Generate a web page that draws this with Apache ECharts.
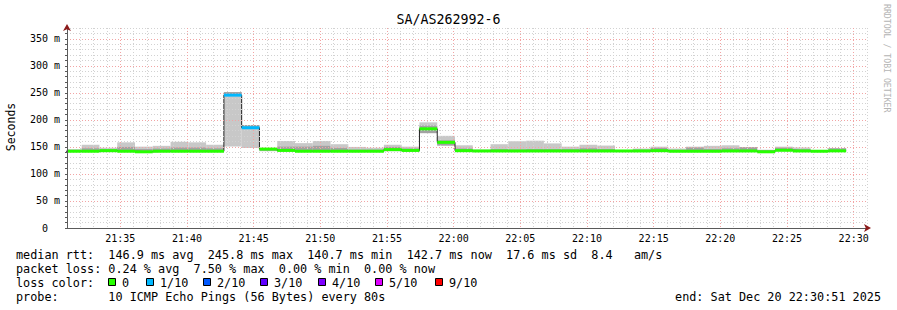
<!DOCTYPE html>
<html><head><meta charset="utf-8">
<script src="https://cdn.jsdelivr.net/npm/echarts@6/dist/echarts.min.js"></script>
<style>html,body{margin:0;padding:0;background:#fff}#c{width:897px;height:310px}</style>
</head><body><div id="c"></div>
<script>
// ---- data ----
const chartTitle = 'SA/AS262992-6';
const startTimes = ['21:30:46','21:32:06','21:33:26','21:34:46','21:36:06','21:37:26','21:38:46','21:40:06','21:41:26','21:42:46',
  '21:44:06','21:45:26','21:46:46','21:48:06','21:49:26','21:50:46','21:52:06','21:53:26','21:54:46','21:56:06',
  '21:57:26','21:58:46','22:00:06','22:01:26','22:02:46','22:04:06','22:05:26','22:06:46','22:08:06','22:09:26',
  '22:10:46','22:12:06','22:13:26','22:14:46','22:16:06','22:17:26','22:18:46','22:20:06','22:21:26','22:22:46',
  '22:24:06','22:25:26','22:26:46','22:28:06'];
const lastEndTime = '22:29:26';
const medianMs = [142.0,142.0,143.0,142.0,141.0,142.0,142.0,142.0,142.0,245.8,
  185.5,146.0,143.5,142.0,142.0,142.0,142.0,142.0,145.0,143.5,
  183.5,158.5,143.0,142.5,142.5,142.5,142.5,142.5,142.5,142.5,
  142.5,142.5,142.5,143.0,142.0,142.0,142.0,142.5,142.5,141.0,
  143.8,142.5,142.0,142.7];
const lossPct = [0,0,0,0,0,0,0,0,0,7.5,
  3.1,0,0,0,0,0,0,0,0,0,
  0,0,0,0,0,0,0,0,0,0,
  0,0,0,0,0,0,0,0,0,0,
  0,0,0,0];
const smokeLo = [141,141,140.5,141,140,141,141,141,141,151,
  148,142,142,141,141,141,141,141,142,141.5,
  175.5,152.5,141,141,141,141,141,141,141,141,
  141,141,141,141,140.7,141,141,141,141,140.5,
  142,141,140.7,141.5];
const smokeHi = [146,154,148.5,158.5,150.5,152,159.5,158.5,154,251.5,
  190.5,147.5,161,157,161,155,150,148.5,154,150.5,
  195.5,170.5,153,145,155,160.5,161.5,156.5,150.5,154,
  152.5,144,147,150.5,147,150.5,152,153,149.5,144.5,
  150.5,149,143.5,147.5];
const denseLo = [142,142,141,142,141,142,142,142,142,246,
  185,143,143,142,142,142,142,142,143,142,
  175.5,152.5,142,141.5,142,142,142,142,142,142,
  142,141.5,142,142,141,142,142,142,142,141,
  143,142,141,142];
const denseHi = [144,147.5,146,150,146,147,149,149,147.5,251.5,
  190.5,146.5,150.5,150.5,152,148,145,145,150,147,
  189.5,162,147,144,146,145,146,146,146,147.5,
  146,143.5,145,148,144.5,149,146,147.5,149.5,144.5,
  148.5,146,143,147.5];
const yTickValues = [0,50,100,150,200,250,300,350];
const xTickLabels = ['21:35','21:40','21:45','21:50','21:55','22:00','22:05','22:10','22:15','22:20','22:25','22:30'];
const lossLegendLabels = ['0','1/10','2/10','3/10','4/10','5/10','9/10'];
const lossLegendColors = ['#26ff00','#00b8ff','#0059ff','#5e00ff','#7e00ff','#dd00ff','#ff0000'];
const lossLegendLimits = [0,1,2,3,4,5,10]; // lost pings out of 10
const statLine1 = 'median rtt:  146.9 ms avg  245.8 ms max  140.7 ms min  142.7 ms now  17.6 ms sd  8.4   am/s';
const statLine2 = 'packet loss: 0.24 % avg  7.50 % max  0.00 % min  0.00 % now';
const lossLine  = 'loss color:';
const probeLine = 'probe:       10 ICMP Echo Pings (56 Bytes) every 80s';
const endLine   = 'end: Sat Dec 20 22:30:51 2025';
const sideText  = 'RRDTOOL / TOBI OETIKER';

// ---- helpers ----
const MONO = 'DejaVu Sans Mono';
const nb = s => s.replace(/ /g, '\u00A0');
const toMin = s => { const p = s.split(':').map(Number); return p[0]*60 + p[1] + p[2]/60; };
const starts = startTimes.map(toMin);
const ends = starts.slice(1).concat([toMin(lastEndTime)]);
const lossColor = pct => {
  const lost = pct / 10;
  for (let k = 0; k < lossLegendLimits.length; k++) if (lost <= lossLegendLimits[k]) return lossLegendColors[k];
  return lossLegendColors[lossLegendColors.length - 1];
};
const smokeData = starts.map((s, i) => [s, ends[i], smokeLo[i], smokeHi[i], denseLo[i], denseHi[i]]);
const bandData = starts.map((s, i) => ({ value: [s, ends[i], medianMs[i]], itemStyle: { color: lossColor(lossPct[i]) } }));
const medLine = starts.map((s, i) => [s, medianMs[i]]).concat([[ends[ends.length-1], medianMs[medianMs.length-1]]]);

const GMINOR = '#d2d2d2', GMAJOR = '#f2a4a4';
const AXIS_C = '#5a5a5a', ARROW_C = '#8b1a1a';

function clipR(r, cs) {
  return echarts.graphic.clipRectByRect(r, { x: cs.x, y: cs.y, width: cs.width, height: cs.height });
}

const chart = echarts.init(document.getElementById('c'), null, { renderer: 'svg', width: 897, height: 310 });

const fmtX = v => {
  const m = Math.round(v);
  if (m % 5 !== 0) return '';
  const lab = Math.floor(m / 60) + ':' + String(m % 60).padStart(2, '0');
  return xTickLabels.indexOf(lab) >= 0 ? lab : '';
};
const fmtY = v => {
  const r = Math.round(v);
  if (yTickValues.indexOf(r) < 0) return '';
  return r === 0 ? '0\u00A0\u00A0' : r + '\u00A0m';
};

const legendGraphics = [];
const boxX = [108, 146, 203, 260, 318, 375, 435];
lossLegendLabels.forEach((lab, k) => {
  legendGraphics.push({ type: 'rect', shape: { x: boxX[k] + 0.5, y: 278.5, width: 7, height: 7 },
    style: { fill: lossLegendColors[k], stroke: '#000', lineWidth: 1 } });
  legendGraphics.push({ type: 'text', x: boxX[k] + 14, y: 282.5,
    style: { text: lab, fill: '#000', fontFamily: MONO, fontSize: 11.8, verticalAlign: 'middle', align: 'left' } });
});

const option = {
  animation: false,
  backgroundColor: '#fff',
  grid: { left: 67, right: 30, top: 28, bottom: 82, containLabel: false },
  xAxis: [{
    type: 'value', min: 1291, max: 1351, interval: 1, position: 'bottom', z: 3,
    axisLine: { show: true, onZero: false, lineStyle: { color: AXIS_C, width: 1 } },
    axisTick: { show: false },
    axisLabel: { formatter: fmtX, fontFamily: MONO, fontSize: 10, color: '#000', margin: 5 },
    splitLine: { show: true, lineStyle: { color: [GMINOR, GMINOR, GMINOR, GMINOR, GMAJOR], type: [1, 2], width: 1 } }
  }, {
    type: 'value', min: 1291, max: 1351, interval: 1, position: 'bottom', z: 4, show: true,
    axisLine: { show: true, onZero: false, symbol: ['none', 'arrow'], symbolSize: [6, 7], symbolOffset: [0, 4],
      lineStyle: { color: ARROW_C, width: 0.01 } },
    axisTick: { show: false }, axisLabel: { show: false }, splitLine: { show: false }
  }],
  yAxis: [{
    type: 'value', min: 0, max: 370, interval: 10, position: 'left', z: 3,
    axisLine: { show: true, onZero: false, lineStyle: { color: AXIS_C, width: 1 } },
    axisTick: { show: true, length: 2, lineStyle: { color: AXIS_C } },
    axisLabel: { formatter: fmtY, fontFamily: MONO, fontSize: 10, color: '#000', margin: 7 },
    splitLine: { show: true, lineStyle: { color: [GMAJOR, GMINOR, GMINOR, GMINOR, GMINOR], type: [1, 2], width: 1 } }
  }, {
    type: 'value', min: 0, max: 370, interval: 10, position: 'left', z: 4, show: true,
    axisLine: { show: true, onZero: false, symbol: ['none', 'arrow'], symbolSize: [6, 7], symbolOffset: [0, 4],
      lineStyle: { color: ARROW_C, width: 0.01 } },
    axisTick: { show: false }, axisLabel: { show: false }, splitLine: { show: false }
  }],
  series: [{
    type: 'custom', name: 'smoke', xAxisIndex: 0, yAxisIndex: 0, z: 1, clip: true,
    encode: { x: [0, 1], y: [2, 3, 4, 5] },
    data: smokeData,
    renderItem: (params, api) => {
      const cs = params.coordSys;
      const x0 = api.value(0), x1 = api.value(1);
      const a = api.coord([x0, api.value(3)]), b = api.coord([x1, api.value(2)]);
      const c = api.coord([x0, api.value(5)]), d = api.coord([x1, api.value(4)]);
      const ch = [];
      const r1 = clipR({ x: a[0], y: a[1], width: b[0] - a[0], height: b[1] - a[1] }, cs);
      if (r1) ch.push({ type: 'rect', shape: r1, style: { fill: '#c8c8c8' } });
      const r2 = clipR({ x: c[0], y: c[1], width: d[0] - c[0], height: d[1] - c[1] }, cs);
      if (r2) ch.push({ type: 'rect', shape: r2, style: { fill: '#a2a2a2' } });
      return { type: 'group', children: ch };
    }
  }, {
    type: 'line', name: 'median', xAxisIndex: 0, yAxisIndex: 0, z: 2,
    step: 'end', symbol: 'none', data: medLine,
    lineStyle: { color: '#202020', width: 1 }
  }, {
    type: 'custom', name: 'loss', xAxisIndex: 0, yAxisIndex: 0, z: 3, clip: true,
    encode: { x: [0, 1], y: 2 },
    data: bandData,
    renderItem: (params, api) => {
      const cs = params.coordSys;
      const a = api.coord([api.value(0), api.value(2)]), b = api.coord([api.value(1), api.value(2)]);
      const r = clipR({ x: a[0], y: a[1] - 1.5, width: b[0] - a[0], height: 3 }, cs);
      if (!r) return null;
      return { type: 'rect', shape: r, style: { fill: api.visual('color') } };
    }
  }],
  graphic: [
    { type: 'text', x: 448.5, y: 19, style: { text: chartTitle, fill: '#000', fontFamily: MONO, fontSize: 13.3, align: 'center', verticalAlign: 'middle' } },
    { type: 'text', x: 11, y: 127, rotation: Math.PI / 2, style: { text: 'Seconds', fill: '#000', fontFamily: MONO, fontSize: 11.5, align: 'center', verticalAlign: 'middle' } },
    { type: 'text', x: 887, y: 4, rotation: -Math.PI / 2, style: { text: nb(sideText), fill: '#b4b4b4', fontFamily: MONO, fontSize: 8.2, align: 'left', verticalAlign: 'middle' } },
    { type: 'text', x: 16, y: 254.5, style: { text: nb(statLine1), fill: '#000', fontFamily: MONO, fontSize: 11.8, align: 'left', verticalAlign: 'middle' } },
    { type: 'text', x: 16, y: 268.5, style: { text: nb(statLine2), fill: '#000', fontFamily: MONO, fontSize: 11.8, align: 'left', verticalAlign: 'middle' } },
    { type: 'text', x: 16, y: 282.5, style: { text: nb(lossLine), fill: '#000', fontFamily: MONO, fontSize: 11.8, align: 'left', verticalAlign: 'middle' } },
    { type: 'text', x: 16, y: 296.5, style: { text: nb(probeLine), fill: '#000', fontFamily: MONO, fontSize: 11.8, align: 'left', verticalAlign: 'middle' } },
    { type: 'text', x: 881, y: 296.5, style: { text: nb(endLine), fill: '#000', fontFamily: MONO, fontSize: 11.8, align: 'right', verticalAlign: 'middle' } }
  ].concat(legendGraphics)
};
chart.setOption(option);
</script>
</body></html>
